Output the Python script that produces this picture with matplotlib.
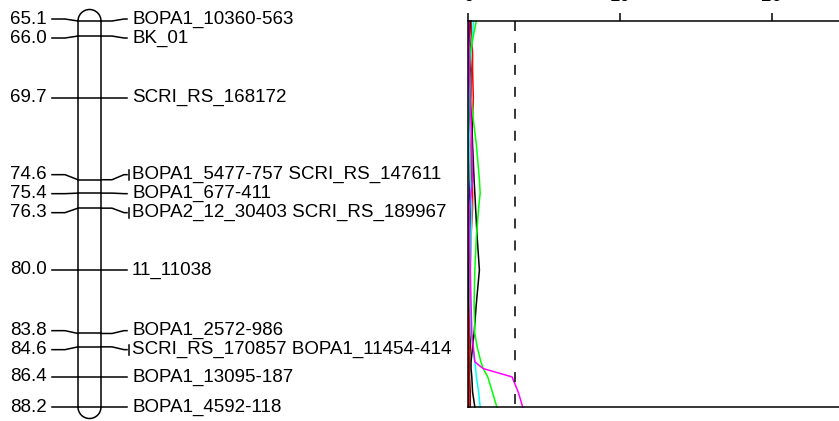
import matplotlib.pyplot as plt
from matplotlib.patches import Arc

plt.rcParams['font.family'] = ['Liberation Sans', 'DejaVu Sans']
plt.rcParams['lines.scale_dashes'] = False

# markers on the linkage group (cM)
marker_cm = [65.1, 66.0, 69.7, 74.6, 75.4, 76.3, 80.0, 83.8, 84.6, 86.4, 88.2]
marker_names = ['BOPA1_10360-563', 'BK_01', 'SCRI_RS_168172',
                'BOPA1_5477-757 SCRI_RS_147611', 'BOPA1_677-411',
                'BOPA2_12_30403 SCRI_RS_189967', '11_11038',
                'BOPA1_2572-986', 'SCRI_RS_170857 BOPA1_11454-414',
                'BOPA1_13095-187', 'BOPA1_4592-118']
multi = [False, False, False, True, False, True, False, False, True, False, False]

# LOD profiles
pos = [65.1, 66.0, 67.0, 68.0, 69.7, 71.0, 72.5, 74.6, 75.4, 76.3,
       78.0, 80.0, 82.0, 83.8, 84.6, 85.5, 85.9, 86.4, 87.3, 88.2]
lod_black = [0.15, 0.1, 0.1, 0.15, 0.2, 0.25, 0.3, 0.4, 0.45, 0.5,
             0.6, 0.75, 0.55, 0.4, 0.3, 0.2, 0.2, 0.25, 0.3, 0.45]
lod_green = [0.55, 0.35, 0.15, 0.1, 0.2, 0.35, 0.55, 0.75, 0.8, 0.7,
             0.55, 0.45, 0.4, 0.45, 0.6, 0.85, 1.0, 1.3, 1.6, 1.9]
lod_magenta = [0.05, 0.05, 0.1, 0.1, 0.15, 0.2, 0.25, 0.3, 0.2, 0.1,
               0.1, 0.15, 0.2, 0.25, 0.35, 0.45, 1.0, 2.9, 3.3, 3.6]
lod_cyan = [0.35, 0.3, 0.2, 0.1, 0.05, 0.05, 0.1, 0.15, 0.2, 0.25,
            0.2, 0.15, 0.15, 0.2, 0.3, 0.45, 0.5, 0.55, 0.7, 0.8]
lod_red = [0.2, 0.25, 0.3, 0.3, 0.35, 0.3, 0.2, 0.25, 0.3, 0.3,
           0.2, 0.15, 0.1, 0.1, 0.1, 0.05, 0.05, 0.05, 0.05, 0.05]
lod_navy = [0.05, 0.05, 0.05, 0.05, 0.05, 0.05, 0.05, 0.1, 0.1, 0.05,
            0.05, 0.05, 0.05, 0.05, 0.05, 0.05, 0.05, 0.05, 0.05, 0.05]
lod_darkred = [0.1, 0.1, 0.15, 0.2, 0.15, 0.1, 0.1, 0.15, 0.2, 0.2,
               0.1, 0.1, 0.15, 0.2, 0.15, 0.1, 0.1, 0.1, 0.15, 0.15]
threshold = 3.1
lod_ticks = [0, 10, 20]

W, H = 839, 421
top_px, bot_px = 21, 407
fig = plt.figure(figsize=(W / 100, H / 100), dpi=100)
b = (H - bot_px) / H
h = (bot_px - top_px) / H

# ---- linkage group ----
axm = fig.add_axes([0, b, 460 / W, h])
axm.set_xlim(0, 460)
axm.set_ylim(88.2, 65.1)
axm.axis('off')
px_per_cm = (bot_px - top_px) / (88.2 - 65.1)

lw = 1.1
x0, x1 = 78, 101
r_cm = (x1 - x0) / 2 / px_per_cm
axm.plot([x0, x0], [marker_cm[0], marker_cm[-1]], color='black', lw=lw, clip_on=False)
axm.plot([x1, x1], [marker_cm[0], marker_cm[-1]], color='black', lw=lw, clip_on=False)
axm.add_patch(Arc(((x0 + x1) / 2, marker_cm[0]), x1 - x0, 2 * r_cm,
                  theta1=180, theta2=360, color='black', lw=lw, clip_on=False))
axm.add_patch(Arc(((x0 + x1) / 2, marker_cm[-1]), x1 - x0, 2 * r_cm,
                  theta1=0, theta2=180, color='black', lw=lw, clip_on=False))

# spread labels so they do not overlap
gap = 19 / px_per_cm
lab = list(marker_cm)
for _ in range(200):
    moved = False
    for i in range(len(lab) - 1):
        d = lab[i + 1] - lab[i]
        if d < gap - 1e-6:
            s = (gap - d) / 2
            lab[i] -= s
            lab[i + 1] += s
            moved = True
    if not moved:
        break

for cm, ly, name, m in zip(marker_cm, lab, marker_names, multi):
    axm.plot([x0, x1], [cm, cm], color='black', lw=lw, clip_on=False)
    axm.plot([52, 65, x0], [ly, ly, cm], color='black', lw=lw, clip_on=False)
    axm.plot([x1, 112, 124, 127], [cm, cm, ly, ly], color='black', lw=lw, clip_on=False)
    axm.text(47, ly, f'{cm:.1f}', ha='right', va='center', fontsize=13.5)
    if m:
        axm.plot([128.5, 128.5], [ly - 0.3, ly + 0.3], color='black', lw=lw, clip_on=False)
    axm.text(132, ly, name, ha='left', va='center', fontsize=13.5)

# ---- LOD profiles ----
px_per_lod = 15.2
ax = fig.add_axes([468 / W, b, (W + 20 - 468) / W, h])
ax.set_xlim(0, (W + 20 - 468) / px_per_lod)
ax.set_ylim(88.2, 65.1)
curves = [(lod_navy, '#1c1c8c'), (lod_darkred, '#800000'), (lod_red, '#ff0000'),
          (lod_cyan, '#00ffff'), (lod_black, 'black'), (lod_green, '#00ff00'),
          (lod_magenta, '#ff00ff')]
for vals, c in curves:
    ax.plot(vals, pos, color=c, lw=1.1, clip_on=False)
ax.plot([threshold, threshold], [65.1, 88.2], color='black', lw=1.1,
        linestyle=(0, (7.2, 8.6)))
ax.spines['right'].set_visible(False)
for s in ['top', 'left', 'bottom']:
    ax.spines[s].set_linewidth(1.1)
ax.xaxis.tick_top()
ax.set_xticks(lod_ticks)
ax.set_xticklabels([str(t) for t in lod_ticks])
ax.tick_params(axis='x', direction='out', length=5.8, width=1.1, pad=6, labelsize=13.5)
ax.set_yticks([])

fig.savefig('out.png', dpi=100)
